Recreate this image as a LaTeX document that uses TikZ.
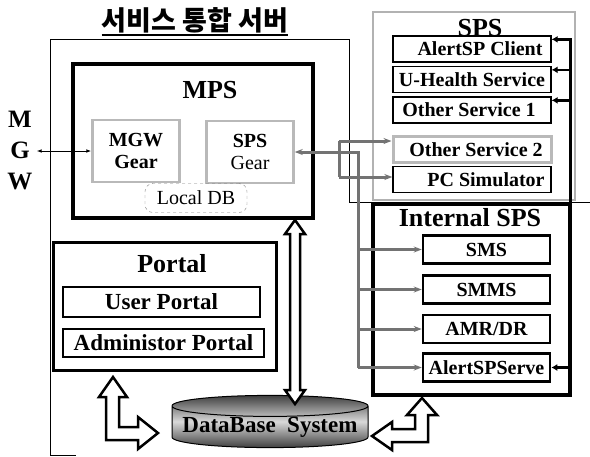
\documentclass[tikz,border=0pt]{standalone}
\usepackage{fontspec}
\setmainfont{Liberation Serif}
\newfontfamily\krfont{Noto Sans CJK KR}
\usetikzlibrary{arrows.meta,shapes.geometric}

\tikzset{
  hd/.style={font=\bfseries\fontsize{26}{28}\selectfont, inner sep=0pt},
  txt/.style={font=\bfseries\fontsize{20}{22}\selectfont, inner sep=0pt},
  heavybox/.style={draw, line width=3.5pt},
  gearbox/.style={draw=gray!55, line width=2.5pt, minimum width=87, minimum height=62,
    inner sep=1pt, align=center, font=\fontsize{20}{22}\selectfont},
  svcbox/.style={draw, line width=1.3pt, minimum width=158, minimum height=26, inner sep=0pt},
  svcgray/.style={svcbox, draw=gray!55, line width=3pt},
  intbox/.style={draw, line width=2.5pt, minimum width=127, minimum height=28, inner sep=0pt},
  portbox/.style={draw, line width=1.2pt, inner sep=0pt, font=\bfseries\fontsize{23}{25}\selectfont},
  conn/.style={draw=black!55, line width=3pt},
  feed/.style={line width=2.5pt, -{Latex[length=6pt,width=7pt]}},
  hollow/.style={draw, line width=2.5pt, fill=white, line join=miter},
}

\begin{document}
\begin{tikzpicture}[x=1pt,y=-1pt]
\useasboundingbox (0,0) rectangle (590,456);
% title and server frame
\node[font=\krfont\bfseries\fontsize{27}{29}\selectfont, inner sep=0pt] (title) at (195,20) {서비스 통합 서버};
\draw[line width=2pt] ([yshift=-2pt]title.south west) -- ([yshift=-2pt]title.south east);
\draw[line width=1pt] (349,202) -- (349,39) -- (50,39) -- (50,455) -- (76,455);
\draw[line width=1pt] (349,202) -- (590,202);

% MPS
\node[heavybox, minimum width=240, minimum height=154] (mps) at (193,141) {};
\node[hd] (mpslbl) at (210,90) {MPS};
\node[gearbox, font=\bfseries\fontsize{20}{22}\selectfont] (mgwgear) at (136,151) {MGW\\Gear};
\node[gearbox] (spsgear) at (250,152) {\textbf{SPS}\\Gear};
\node[draw=gray, dashed, rounded corners=8pt, minimum width=102, minimum height=29,
  inner sep=0pt, font=\fontsize{20}{22}\selectfont] (localdb) at (196,198) {Local DB};

\node[font=\bfseries\fontsize{25}{31}\selectfont, align=center, inner sep=0pt] (mgw) at (20,150) {M\\G\\W};
\draw[{Latex[length=5pt]}-{Latex[length=5pt]}, line width=1pt] ([xshift=4pt]mgw.east |- mgwgear.west) -- (mgwgear.west);

% Portal
\node[draw, line width=3pt, minimum width=223, minimum height=128] (portal) at (164.5,306) {};
\node[hd] (portallbl) at (172,264) {Portal};
\node[portbox, minimum width=197, minimum height=30] (userp) at (161.5,302) {User Portal};
\node[portbox, minimum width=201, minimum height=28] (adminp) at (163.5,343) {Administor Portal};

% SPS
\node[draw=gray!60, line width=1.2pt, minimum width=202, minimum height=188] (sps) at (474,106) {};
\node[hd] (spslbl) at (480,28) {SPS};
\foreach \n/\t/\y/\dx/\s in {client/AlertSP Client/49/8/svcbox, uhealth/U-Health Service/79.5/0/svcbox,
    osvc1/Other Service 1/110/-3/svcbox, osvc2/Other Service 2/149.5/4/svcgray, pcsim/PC Simulator/179.5/14/svcbox} {
  \node[\s] (\n) at (472,\y) {};
  \node[txt] (\n-t) at ([xshift=\dx]\n) {\t};
}

% Internal SPS
\node[heavybox, minimum width=197, minimum height=191] (isps) at (471.5,299.5) {};
\node[hd] (isplbl) at (470,218) {Internal SPS};
\foreach \n/\t/\y in {sms/SMS/249.5, smms/SMMS/289.5, amr/{AMR/DR}/329, alertsrv/AlertSPServe/367.5}
  \node[intbox, txt] (\n) at (486.5,\y) {\t};

% DataBase
\node[cylinder, shape border rotate=90, aspect=0.12, minimum width=196, minimum height=50,
  draw, line width=1pt, top color=gray!50!black, bottom color=gray!50!black, middle color=gray!30,
  font=\bfseries\fontsize{23}{25}\selectfont, inner sep=0pt] (db) at (270,427) {DataBase\ \ System};

% gear lines
\coordinate (jn) at (358,152);
\coordinate (ja) at (339,141);
\coordinate (jb) at (339,177);
\draw[conn, {Stealth[length=8pt]}-] (spsgear.east) -- (jn) -- (jn |- alertsrv.west);
\draw[conn] (ja) -- (jb);
\draw[conn, -{Stealth[length=8pt]}] (ja) -- (ja -| osvc2.west);
\draw[conn, -{Stealth[length=8pt]}] (jb) -- (jb -| pcsim.west);
\foreach \n in {sms,smms,amr,alertsrv}
  \draw[conn, -{Stealth[length=8pt]}] (jn |- \n.west) -- (\n.west);

% right feed line
\coordinate (rtop) at (570,38);
\draw[line width=3pt] (rtop) -- (rtop |- alertsrv.east);
\foreach \n in {client,uhealth,osvc1} {
  \coordinate (\n-in) at ([yshift=-4pt]\n.north east);
  \draw[feed] (rtop |- \n-in) -- (\n-in);
}
\draw[feed] (rtop |- alertsrv.east) -- (alertsrv.east);

% hollow arrows
\draw[hollow] (295,220) -- (305,234) -- (300,234) -- (300,390) -- (305,390) -- (295,404)
  -- (285,390) -- (290,390) -- (290,234) -- (285,234) -- cycle;
\draw[hollow] (113,377) -- (127,397) -- (119,397) -- (119,427) -- (138,427) -- (138,417)
  -- (158,433) -- (138,449) -- (138,440) -- (106,440) -- (106,397) -- (99,397) -- cycle;
\draw[hollow] (422,398) -- (437,415) -- (428,415) -- (428,442) -- (392,442) -- (392,450)
  -- (372,436) -- (392,422) -- (392,429) -- (415,429) -- (415,415) -- (407,415) -- cycle;
\end{tikzpicture}
\end{document}
